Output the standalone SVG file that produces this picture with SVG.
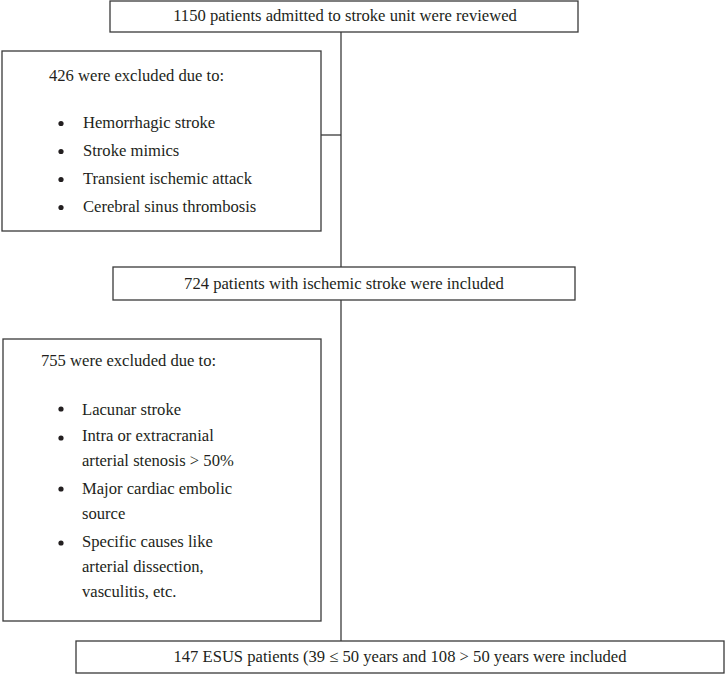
<svg xmlns="http://www.w3.org/2000/svg" width="727" height="674" viewBox="0 0 727 674">
<style>
.box{fill:#fff;stroke:#3a3a3a;stroke-width:1.3}
.t{font-family:"Liberation Serif","DejaVu Serif","Times New Roman",serif;font-size:16.6px;fill:#231f20}
.c{text-anchor:middle}
.ln{stroke:#2a2a2a;stroke-width:1.2;fill:none}
.b{fill:#231f20}
</style>
<rect width="727" height="674" fill="#fff"/>
<g id="connectors">
<line class="ln" x1="341" y1="32" x2="341" y2="267"/>
<line class="ln" x1="321" y1="135" x2="341" y2="135"/>
<line class="ln" x1="341" y1="300" x2="341" y2="641"/>
</g>
<g id="n1">
<rect class="box" x="110" y="1" width="468" height="31"/>
<text class="t c" x="345" y="21">1150 patients admitted to stroke unit were reviewed</text>
</g>
<g id="n2">
<rect class="box" x="2" y="51" width="319" height="180"/>
<text class="t" x="49" y="81">426 were excluded due to:</text>
<circle class="b" cx="61" cy="123.5" r="2.6"/>
<text class="t" x="83" y="128">Hemorrhagic stroke</text>
<circle class="b" cx="61" cy="151.5" r="2.6"/>
<text class="t" x="83" y="156">Stroke mimics</text>
<circle class="b" cx="61" cy="179.5" r="2.6"/>
<text class="t" x="83" y="184">Transient ischemic attack</text>
<circle class="b" cx="61" cy="207.5" r="2.6"/>
<text class="t" x="83" y="212">Cerebral sinus thrombosis</text>
</g>
<g id="n3">
<rect class="box" x="113" y="267" width="462" height="33"/>
<text class="t c" x="344" y="289">724 patients with ischemic stroke were included</text>
</g>
<g id="n4">
<rect class="box" x="3" y="339" width="318" height="282"/>
<text class="t" x="41" y="366">755 were excluded due to:</text>
<circle class="b" cx="61" cy="409" r="2.6"/>
<text class="t" x="82" y="415">Lacunar stroke</text>
<circle class="b" cx="61" cy="438" r="2.6"/>
<text class="t" x="82" y="441">Intra or extracranial</text>
<text class="t" x="82" y="466">arterial stenosis &gt; 50%</text>
<circle class="b" cx="61" cy="489" r="2.6"/>
<text class="t" x="82" y="494">Major cardiac embolic</text>
<text class="t" x="82" y="519">source</text>
<circle class="b" cx="61" cy="543" r="2.6"/>
<text class="t" x="82" y="547">Specific causes like</text>
<text class="t" x="82" y="572">arterial dissection,</text>
<text class="t" x="82" y="597">vasculitis, etc.</text>
</g>
<g id="n5">
<rect class="box" x="76" y="641" width="648" height="32"/>
<text class="t c" x="400" y="662">147 ESUS patients (39 ≤ 50 years and 108 &gt; 50 years were included</text>
</g>
</svg>
